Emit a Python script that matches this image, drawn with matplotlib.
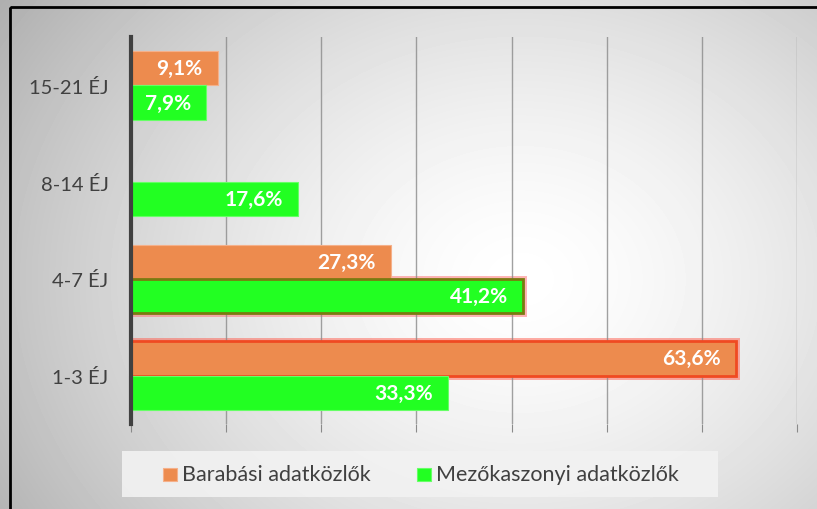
import numpy as np
import matplotlib.pyplot as plt
from matplotlib.patches import Rectangle

# Data
categories = ["1-3 ÉJ", "4-7 ÉJ", "8-14 ÉJ", "15-21 ÉJ"]
barabasi = [63.6, 27.3, None, 9.1]
mezokaszonyi = [33.3, 41.2, 17.6, 7.9]
series_names = ["Barabási adatközlők", "Mezőkaszonyi adatközlők"]

orange = "#ED8B4E"
green = "#22FF22"
text_col = "#404040"

plt.rcParams['font.family'] = ['Lato', 'DejaVu Sans']

fig = plt.figure(figsize=(8.17, 5.10), dpi=100)

# Radial gray background
bg = fig.add_axes([0, 0, 1, 1])
yy, xx = np.mgrid[0:510, 0:817]
r = np.sqrt(((xx - 520) / 520.0) ** 2 + ((yy - 280) / 420.0) ** 2)
shade = 1.0 - 0.24 * np.clip(r, 0, 1.2) ** 1.5
bg.imshow(shade, cmap="gray", vmin=0, vmax=1, extent=[0, 817, 510, 0], aspect="auto")
bg.set_xlim(0, 817)
bg.set_ylim(510, 0)
bg.axis("off")
bg.add_patch(Rectangle((10, 8), 830, 520, fill=False, edgecolor="black", linewidth=2))

# Main chart
ax = fig.add_axes([0.1603, 0.1667, 0.8152, 0.7588])
ax.set_facecolor("none")
y = np.arange(len(categories))
h = 0.355

for i, v in enumerate(barabasi):
    if v is None:
        continue
    if v == max(x for x in barabasi if x is not None):
        ax.barh(y[i] + h / 2, v, height=h, color=orange, edgecolor="#ff5a4a",
                linewidth=5, alpha=0.5, zorder=2)
        ax.barh(y[i] + h / 2, v, height=h, color=orange, edgecolor="#F04A22",
                linewidth=2, zorder=3)
    else:
        ax.barh(y[i] + h / 2, v, height=h, color=orange, edgecolor="#f5b08a",
                linewidth=0.8, zorder=3)
    ax.annotate(f"{v:.1f}%".replace(".", ","), (v, y[i] + h / 2), xytext=(-11, 0),
                textcoords="offset points", ha="right", va="center",
                color="white", fontsize=15, fontweight="bold", zorder=5)

for i, v in enumerate(mezokaszonyi):
    if i == 1:
        ax.barh(y[i] - h / 2, v, height=h, color=green, edgecolor="#ff6a6a",
                linewidth=5, alpha=0.5, zorder=2)
        ax.barh(y[i] - h / 2, v, height=h, color=green, edgecolor="#7a7a10",
                linewidth=2, zorder=3)
    else:
        ax.barh(y[i] - h / 2, v, height=h, color=green, edgecolor="#66ff66",
                linewidth=0.8, zorder=3)
    ax.annotate(f"{v:.1f}%".replace(".", ","), (v, y[i] - h / 2), xytext=(-11, 0),
                textcoords="offset points", ha="right", va="center",
                color="white", fontsize=15, fontweight="bold", zorder=5)

ax.set_xlim(0, 70)
ax.set_ylim(-0.5, 3.5)
ax.set_xticks(np.arange(0, 71, 10))
ax.set_xticklabels([])
ax.xaxis.grid(True, color="#8a8a8a", linewidth=1, alpha=0.8, zorder=4)
ax.set_axisbelow(False)
ax.tick_params(axis="x", length=6, color="#8a8a8a", direction="out")
ax.set_yticks(y)
ax.set_yticklabels(categories, fontsize=14.5, color=text_col)
ax.tick_params(axis="y", length=0, pad=16)
for s in ["top", "right", "bottom"]:
    ax.spines[s].set_visible(False)
ax.spines["left"].set_color("#404040")
ax.spines["left"].set_linewidth(3)
ax.spines["left"].set_zorder(6)

# Legend box
bg.add_patch(Rectangle((122, 452), 596, 46, facecolor="#f2f2f2", edgecolor="none", alpha=0.9))
bg.add_patch(Rectangle((163, 469), 14, 13, facecolor=orange, edgecolor="#f5b08a", linewidth=0.8))
bg.text(182, 475, series_names[0], fontsize=15.5, color=text_col, va="center", ha="left")
bg.add_patch(Rectangle((417, 469), 14, 13, facecolor=green, edgecolor="#66ff66", linewidth=0.8))
bg.text(436, 475, series_names[1], fontsize=15.5, color=text_col, va="center", ha="left")

fig.savefig("out.png", dpi=100)
